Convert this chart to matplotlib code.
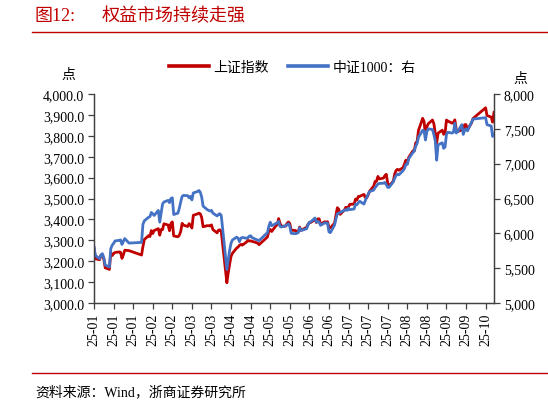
import pandas as pd
import matplotlib
matplotlib.use("Agg")
import matplotlib.pyplot as plt
from matplotlib.lines import Line2D
from matplotlib.ticker import FuncFormatter

plt.rcParams['font.family'] = ['Liberation Serif', 'Noto Sans CJK SC']

# market holidays (trading days = business days minus these)
holidays = ["2025-01-28", "2025-01-29", "2025-01-30", "2025-01-31", "2025-02-03", "2025-02-04",
            "2025-04-04", "2025-05-01", "2025-05-02", "2025-05-05", "2025-06-02",
            "2025-10-01", "2025-10-02", "2025-10-03", "2025-10-06", "2025-10-07", "2025-10-08"]

# 上证指数, by month
sse_jan = [3262.6, 3211.4, 3206.9, 3229.6, 3230.2, 3211.4, 3168.5, 3160.8, 3240.9, 3227.1,
           3236.0, 3241.8, 3244.4, 3242.6, 3213.6, 3230.2, 3252.6, 3250.6]
sse_feb = [3229.5, 3270.7, 3303.7, 3322.2, 3318.1, 3346.4, 3332.5, 3346.7, 3355.8, 3324.5,
           3351.5, 3350.8, 3379.1, 3373.0, 3346.0, 3380.2, 3388.1, 3320.9]
sse_mar = [3316.9, 3324.2, 3342.0, 3381.1, 3372.6, 3366.2, 3379.8, 3371.9, 3358.7, 3419.6,
           3426.4, 3429.8, 3426.4, 3409.0, 3364.8, 3370.0, 3370.0, 3368.7, 3373.8, 3351.3, 3335.8]
sse_apr = [3348.4, 3350.1, 3342.0, 3096.6, 3145.6, 3186.8, 3223.6, 3238.2, 3262.8, 3267.7,
           3276.0, 3280.3, 3276.7, 3291.4, 3299.8, 3296.4, 3297.3, 3295.1, 3288.4, 3286.7, 3279.0]
sse_may = [3316.1, 3342.7, 3352.0, 3342.0, 3369.2, 3374.9, 3404.0, 3380.8, 3367.5, 3367.6,
           3380.5, 3387.6, 3380.2, 3348.4, 3346.8, 3340.7, 3339.9, 3363.5, 3347.5]
sse_jun = [3362.0, 3376.2, 3384.1, 3385.4, 3399.8, 3384.8, 3402.3, 3402.7, 3377.0, 3388.8,
           3387.4, 3388.8, 3362.1, 3359.9, 3381.6, 3420.6, 3456.0, 3448.5, 3424.2, 3444.4]
sse_jul = [3457.8, 3454.8, 3461.2, 3472.3, 3473.1, 3497.5, 3493.1, 3509.7, 3510.2, 3519.7,
           3505.0, 3503.8, 3516.8, 3534.5, 3559.8, 3581.9, 3582.3, 3605.7, 3593.7, 3597.9,
           3609.7, 3615.7, 3573.2]
sse_aug = [3560.0, 3583.3, 3617.6, 3634.0, 3639.7, 3635.1, 3647.6, 3665.9, 3683.5, 3666.4,
           3696.8, 3728.0, 3727.3, 3766.2, 3771.1, 3825.8, 3883.6, 3868.4, 3800.4, 3843.6, 3857.9]
sse_sep = [3875.5, 3858.1, 3813.6, 3765.9, 3812.5, 3826.8, 3807.3, 3812.2, 3875.3, 3870.6,
           3860.5, 3861.9, 3876.3, 3831.7, 3820.1, 3828.6, 3821.8, 3853.6, 3853.3, 3828.1,
           3862.5, 3882.8]
sse_oct = [3934.0, 3897.0, 3889.5, 3865.2, 3912.2]

# 中证1000 (right axis), by month
csi_jan = [5804, 5683, 5636, 5690, 5708, 5650, 5545, 5517, 5780, 5830, 5855, 5890, 5900, 5905,
           5840, 5885, 5925, 5860]
csi_feb = [5870, 6130, 6180, 6230, 6240, 6300, 6280, 6257, 6329, 6160, 6290, 6420, 6450, 6473,
           6440, 6500, 6510, 6270]
csi_mar = [6290, 6360, 6450, 6530, 6545, 6540, 6510, 6530, 6480, 6580, 6600, 6615, 6590, 6520,
           6390, 6340, 6330, 6320, 6330, 6290, 6250]
csi_apr = [6270, 6282, 6255, 5480, 5620, 5760, 5860, 5905, 5945, 5930, 5880, 5930, 5940, 5930,
           5935, 5960, 5965, 5940, 5910, 5905, 5895]
csi_may = [6010, 6100, 6160, 6110, 6140, 6150, 6172, 6100, 6090, 6110, 6120, 6138, 6100, 6000,
           5995, 6000, 6010, 6080, 6040]
csi_jun = [6066, 6120, 6160, 6165, 6220, 6160, 6170, 6160, 6115, 6150, 6150, 6145, 6020, 6010,
           6120, 6210, 6280, 6290, 6300, 6330]
csi_jul = [6340, 6330, 6360, 6340, 6350, 6420, 6410, 6440, 6460, 6420, 6470, 6520, 6560, 6600,
           6620, 6660, 6680, 6710, 6715, 6720, 6730, 6700, 6660]
csi_aug = [6660, 6740, 6790, 6830, 6850, 6840, 6900, 6930, 6990, 6990, 7070, 7160, 7180, 7250,
           7290, 7380, 7480, 7470, 7340, 7460, 7500]
csi_sep = [7490, 7420, 7330, 7050, 7270, 7300, 7220, 7240, 7420, 7450, 7440, 7450, 7580, 7440,
           7460, 7560, 7420, 7480, 7500, 7470, 7600, 7640]
csi_oct = [7660, 7560, 7540, 7390, 7420]

sse = sse_jan + sse_feb + sse_mar + sse_apr + sse_may + sse_jun + sse_jul + sse_aug + sse_sep + sse_oct
csi = csi_jan + csi_feb + csi_mar + csi_apr + csi_may + csi_jun + csi_jul + csi_aug + csi_sep + csi_oct

dates = pd.bdate_range("2025-01-02", "2025-10-15")
dates = dates[~dates.isin(pd.to_datetime(holidays))]

tick_dates = pd.date_range("2025-01-02", periods=21, freq="14D")
tick_labels = [d.strftime("%y-%m") for d in tick_dates]

RED = '#C00000'
BLUE = '#4472C4'
AXC = '#404040'

W, H = 548, 402
fig = plt.figure(figsize=(W / 100, H / 100), dpi=100)
ax = fig.add_axes([94 / W, 1 - 304 / H, 400 / W, 209 / H])

ax.plot(dates, sse, color=RED, lw=2.0)
ax2 = ax.twinx()
ax2.plot(dates, csi, color=BLUE, lw=2.0)

ax.set_xlim(dates[0], dates[-1])
ax.set_ylim(3000, 4000)
ax.set_yticks(range(3000, 4001, 100))
ax.yaxis.set_major_formatter(FuncFormatter(lambda v, p: f"{v:,.1f}"))
ax2.set_ylim(5000, 8000)
ax2.set_yticks(range(5000, 8001, 500))
ax2.yaxis.set_major_formatter(FuncFormatter(lambda v, p: f"{v:,.0f}"))

ax.set_xticks(tick_dates)
ax.set_xticklabels(tick_labels, rotation=90)

for a in (ax, ax2):
    a.spines['top'].set_visible(False)
    for s in ('left', 'right', 'bottom'):
        a.spines[s].set_color(AXC)
        a.spines[s].set_linewidth(0.9)
    a.tick_params(direction='out', length=4, width=0.9, color=AXC, labelsize=10, pad=3)

handles = [Line2D([], [], color=RED, lw=2.6), Line2D([], [], color=BLUE, lw=2.6)]
fig.legend(handles, ['上证指数', '中证1000：右'], loc='center', ncol=2, frameon=False,
           bbox_to_anchor=(292 / W, 1 - 68 / H), fontsize=10, handlelength=2.9,
           handletextpad=0.3, columnspacing=1.4)

fig.text(68 / W, 1 - 75 / H, '点', ha='center', va='center', fontsize=10)
fig.text(520 / W, 1 - 79 / H, '点', ha='center', va='center', fontsize=10)

fig.text(35 / W, 1 - 16 / H, '图12:', color=RED, fontsize=13, va='center')
fig.text(102 / W, 1 - 16 / H, '权益市场持续走强', color=RED, fontsize=13, va='center')
fig.add_artist(Line2D([32 / W, 1], [1 - 33 / H, 1 - 33 / H], color=RED, lw=1))
fig.add_artist(Line2D([32 / W, 1], [1 - 374 / H, 1 - 374 / H], color=RED, lw=1))
fig.text(35 / W, 1 - 392 / H, '资料来源：Wind，浙商证券研究所', fontsize=10, va='center')

fig.savefig('out.png', dpi=100)
